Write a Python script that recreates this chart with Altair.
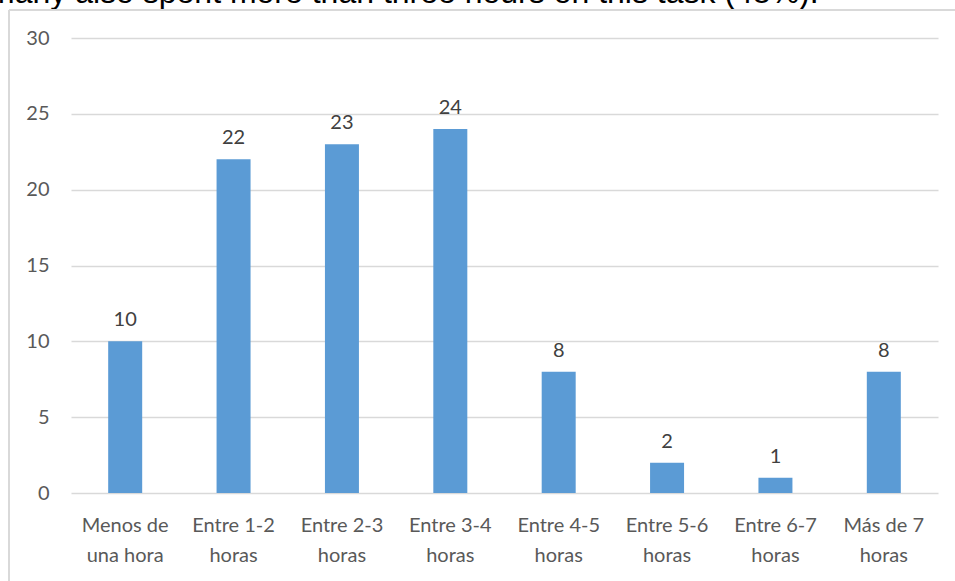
import altair as alt
import pandas as pd

# Survey: hours spent on the task, number of respondents per range
categories = [
    "Menos de\nuna hora",
    "Entre 1-2\nhoras",
    "Entre 2-3\nhoras",
    "Entre 3-4\nhoras",
    "Entre 4-5\nhoras",
    "Entre 5-6\nhoras",
    "Entre 6-7\nhoras",
    "Más de 7\nhoras",
]
counts = [10, 22, 23, 24, 8, 2, 1, 8]
y_ticks = [0, 5, 10, 15, 20, 25, 30]
caption = "many also spent more than three hours on this task (48%)."

df = pd.DataFrame({"rango": categories, "n": counts})

LABEL_FONT = "Lato"
BAR_COLOR = "#5B9BD5"
GRID_COLOR = "#D9D9D9"

x_enc = alt.X(
    "rango:N",
    sort=categories,
    title=None,
    scale=alt.Scale(paddingInner=0, paddingOuter=0),
    axis=alt.Axis(
        labelExpr="split(datum.label, '\\n')",
        labelAngle=0,
        labelFont=LABEL_FONT,
        labelFontSize=20,
        labelColor="#595959",
        labelLineHeight=30,
        labelPadding=22,
        domain=False,
        ticks=False,
        grid=False,
    ),
)
y_enc = alt.Y(
    "n:Q",
    title=None,
    scale=alt.Scale(domain=[0, 30], nice=False),
    axis=alt.Axis(
        values=y_ticks,
        labelFont=LABEL_FONT,
        labelFontSize=20,
        labelColor="#595959",
        labelPadding=22,
        domain=False,
        ticks=False,
        grid=True,
        gridColor=GRID_COLOR,
        gridWidth=1.5,
    ),
)

bars = alt.Chart(df).mark_bar(size=34, color=BAR_COLOR).encode(x=x_enc, y=y_enc)

values = alt.Chart(df).mark_text(
    baseline="alphabetic", dy=-15, font=LABEL_FONT, fontSize=20, color="#404040"
).encode(x=alt.X("rango:N", sort=categories), y="n:Q", text="n:Q")

# Sentence from the surrounding text, clipped at the top edge
caption_text = alt.Chart(pd.DataFrame({"t": [caption]})).mark_text(
    align="left", baseline="alphabetic", font="Liberation Sans", fontSize=32, color="#000000"
).encode(x=alt.value(-83), y=alt.value(-35), text="t:N")

# Light frame around the chart area
frame_top = alt.Chart(pd.DataFrame({"k": [0]})).mark_rule(color=GRID_COLOR, strokeWidth=2).encode(
    x=alt.value(-62), x2=alt.value(900), y=alt.value(-28)
)
frame_left = alt.Chart(pd.DataFrame({"k": [0]})).mark_rule(color=GRID_COLOR, strokeWidth=2).encode(
    x=alt.value(-62), y=alt.value(-28), y2=alt.value(560)
)

chart = (
    alt.layer(bars, values, caption_text, frame_top, frame_left)
    .properties(
        width=867,
        height=455,
        autosize=alt.AutoSizeParams(type="none"),
        padding={"left": 71, "top": 38, "right": 17, "bottom": 88},
        background="#FFFFFF",
    )
    .configure_view(stroke=None)
)

chart.save("out.html", embed_options={"renderer": "svg", "actions": False})
